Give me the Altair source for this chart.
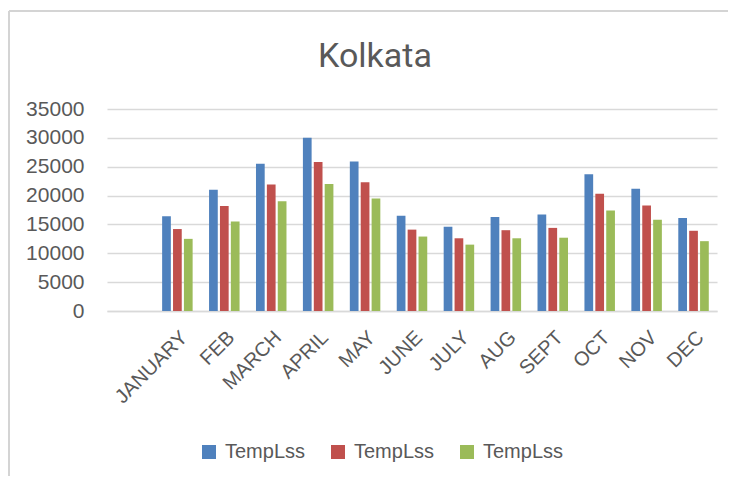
import altair as alt
import pandas as pd

months = ["JANUARY", "FEB", "MARCH", "APRIL", "MAY", "JUNE", "JULY", "AUG", "SEPT", "OCT", "NOV", "DEC"]
series_keys = ["A", "B", "C"]
series_label = "TempLss"
s1 = [16400, 21000, 25500, 30000, 25900, 16500, 14600, 16300, 16700, 23700, 21200, 16100]
s2 = [14200, 18200, 21900, 25800, 22300, 14100, 12600, 14000, 14400, 20300, 18300, 13900]
s3 = [12500, 15500, 19000, 22000, 19500, 12900, 11500, 12600, 12700, 17400, 15800, 12100]
y_ticks = [0, 5000, 10000, 15000, 20000, 25000, 30000, 35000]
colors = ["#4F81BD", "#C0504D", "#9BBB59"]

rows = []
for key, vals in zip(series_keys, [s1, s2, s3]):
    for m, v in zip(months, vals):
        rows.append({"month": m, "series": key, "value": v})
df = pd.DataFrame(rows)

x_domain = [" "] + months
FONT = "Liberation Sans, Arial, sans-serif"
GRAY = "#595959"

bars = alt.Chart(df).mark_bar().encode(
    x=alt.X("month:N", sort=x_domain,
            scale=alt.Scale(domain=x_domain, paddingInner=0.35, paddingOuter=0.175),
            axis=alt.Axis(title=None, labelAngle=-45, labelAlign="right", labelBaseline="top",
                          labelPadding=16, ticks=False, domainColor="#d9d9d9", domainWidth=1.5,
                          labelFont=FONT, labelFontSize=20, labelColor=GRAY, grid=False)),
    xOffset=alt.XOffset("series:N", scale=alt.Scale(paddingInner=0.2, paddingOuter=0)),
    y=alt.Y("value:Q", scale=alt.Scale(domain=[0, 35000], nice=False),
            axis=alt.Axis(title=None, values=y_ticks, format="d", ticks=False, domain=False,
                          gridColor="#d9d9d9", gridWidth=1.5, labelPadding=23,
                          labelFont=FONT, labelFontSize=21, labelColor=GRAY)),
    color=alt.Color("series:N", scale=alt.Scale(domain=series_keys, range=colors),
                    legend=alt.Legend(title=None, orient="none", legendX=92, legendY=333,
                                      direction="horizontal", symbolType="square",
                                      symbolSize=196, symbolStrokeWidth=0, labelOffset=6,
                                      columnPadding=22, padding=0,
                                      labelFont=FONT, labelFontSize=20, labelColor=GRAY,
                                      labelExpr="'" + series_label + "'")),
)

frame = pd.DataFrame({"k": [0]})
left_border = alt.Chart(frame).mark_rule(color="#d4d4d4", strokeWidth=2).encode(
    x=alt.value(-98), y=alt.value(-98), y2=alt.value(400))
top_border = alt.Chart(frame).mark_rule(color="#d4d4d4", strokeWidth=2).encode(
    x=alt.value(-98), x2=alt.value(621), y=alt.value(-98))

chart = alt.layer(left_border, top_border, bars).properties(
    width=610, height=202,
    title=alt.TitleParams("Kolkata", font="Liberation Sans Narrow, Roboto, sans-serif",
                          fontSize=34, fontWeight="normal", color=GRAY, anchor="middle",
                          baseline="alphabetic", offset=-91, dx=-37),
    autosize=alt.AutoSizeParams(type="none"),
    padding={"left": 99, "top": 101, "right": 11, "bottom": 165},
).configure_view(stroke=None)

chart.save("out.html", embed_options={"renderer": "svg", "actions": False})
